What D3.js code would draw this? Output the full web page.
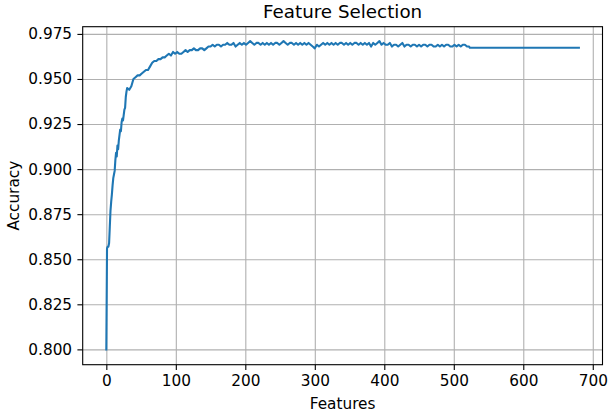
<!DOCTYPE html>
<html>
<head>
<meta charset="utf-8">
<script src="https://cdn.jsdelivr.net/npm/d3@7"></script>
<style>
  body { margin: 0; background: #fff; }
  svg text { font-family: "DejaVu Sans", sans-serif; fill: #000; }
</style>
</head>
<body>
<svg id="chart" width="608" height="418"></svg>
<script>
// early rise, one point per feature count
var riseFeatures = [0, 1, 2, 3, 4, 5, 6, 7, 8, 9, 10, 11, 12, 13, 14, 15, 16, 17, 18, 19, 20,
                    21, 22, 23, 24, 25, 26, 27, 28, 29, 30];
var riseAccuracy = [0.800, 0.856, 0.857, 0.857, 0.859, 0.868, 0.877, 0.882, 0.886, 0.891, 0.895,
                    0.897, 0.899, 0.905, 0.909, 0.907, 0.913, 0.911, 0.916, 0.919, 0.922,
                    0.921, 0.926, 0.928, 0.927, 0.930, 0.933, 0.934, 0.940, 0.943, 0.945];

// noisy part, read every 3 features from 33 to 522
var sampledStart = 33, sampledStep = 3;
var sampledAccuracy = [
  0.944, 0.946, 0.950, 0.951, 0.952, 0.952, 0.953, 0.954, 0.955, 0.955,
  0.957, 0.959, 0.960, 0.960, 0.961, 0.961, 0.962, 0.962, 0.963, 0.964,
  0.963, 0.965, 0.964, 0.965, 0.964, 0.964, 0.965, 0.966, 0.965, 0.966,
  0.966, 0.967, 0.966, 0.966, 0.967, 0.967, 0.966, 0.967, 0.968, 0.968,
  0.969, 0.968, 0.969, 0.969, 0.968, 0.969, 0.969, 0.970, 0.969, 0.969,
  0.970, 0.968, 0.969, 0.970, 0.969, 0.970, 0.969, 0.970, 0.971, 0.970,
  0.969, 0.970, 0.970, 0.969, 0.970, 0.969, 0.970, 0.969, 0.970, 0.969,
  0.970, 0.970, 0.969, 0.970, 0.971, 0.970, 0.969, 0.970, 0.970, 0.969,
  0.970, 0.969, 0.970, 0.969, 0.970, 0.969, 0.970, 0.969, 0.968, 0.967,
  0.969, 0.968, 0.969, 0.970, 0.969, 0.970, 0.969, 0.970, 0.969, 0.970,
  0.969, 0.970, 0.970, 0.969, 0.970, 0.969, 0.970, 0.969, 0.970, 0.970,
  0.969, 0.970, 0.969, 0.970, 0.969, 0.970, 0.968, 0.970, 0.969, 0.970,
  0.971, 0.969, 0.970, 0.969, 0.969, 0.970, 0.968, 0.969, 0.969, 0.968,
  0.969, 0.970, 0.968, 0.969, 0.969, 0.968, 0.969, 0.969, 0.968, 0.969,
  0.968, 0.969, 0.969, 0.968, 0.969, 0.969, 0.968, 0.968, 0.969, 0.968,
  0.969, 0.968, 0.969, 0.969, 0.968, 0.968, 0.969, 0.968, 0.969, 0.968,
  0.969, 0.969, 0.968, 0.968
];

// flat tail
var tailFeatures = [523, 680];
var tailAccuracy = [0.9673, 0.9673];

var xTicks = [0, 100, 200, 300, 400, 500, 600, 700];
var yTicks = [0.800, 0.825, 0.850, 0.875, 0.900, 0.925, 0.950, 0.975];

var data = [];
riseFeatures.forEach(function (f, i) { data.push({ f: f, acc: riseAccuracy[i] }); });
sampledAccuracy.forEach(function (a, i) { data.push({ f: sampledStart + i * sampledStep, acc: a }); });
tailFeatures.forEach(function (f, i) { data.push({ f: f, acc: tailAccuracy[i] }); });

var margin = { top: 26.7, right: 5.5, bottom: 53.3, left: 82.7 },
    width = 608 - margin.left - margin.right,
    height = 418 - margin.top - margin.bottom;

var svg = d3.select("#chart");
var g = svg.append("g").attr("transform", "translate(" + margin.left + "," + margin.top + ")");

var x = d3.scaleLinear().domain([-34, 714]).range([0, width]);
var y = d3.scaleLinear().domain([0.7915, 0.979]).range([height, 0]);

// grid
g.append("g")
    .attr("class", "grid")
    .attr("transform", "translate(0," + height + ")")
    .call(d3.axisBottom(x).tickValues(xTicks).tickSize(-height).tickFormat(""));
g.append("g")
    .attr("class", "grid")
    .call(d3.axisLeft(y).tickValues(yTicks).tickSize(-width).tickFormat(""));
g.selectAll(".grid .domain").remove();
g.selectAll(".grid line").attr("stroke", "#b0b0b0").attr("stroke-width", 1.1);

// line
var line = d3.line()
    .x(function (d) { return x(d.f); })
    .y(function (d) { return y(d.acc); });

g.append("path")
    .datum(data)
    .attr("fill", "none")
    .attr("stroke", "#1f77b4")
    .attr("stroke-width", 2.1)
    .attr("stroke-linejoin", "round")
    .attr("stroke-linecap", "square")
    .attr("d", line);

// axes
var xAxis = g.append("g")
    .attr("transform", "translate(0," + height + ")")
    .call(d3.axisBottom(x).tickValues(xTicks).tickSize(5.3).tickPadding(5).tickSizeOuter(0));
var yAxis = g.append("g")
    .call(d3.axisLeft(y).tickValues(yTicks).tickFormat(d3.format(".3f")).tickSize(5.3).tickPadding(5.3).tickSizeOuter(0));

[xAxis, yAxis].forEach(function (a) {
    a.select(".domain").remove();
    a.selectAll("line").attr("stroke", "#000").attr("stroke-width", 1.1);
    a.selectAll("text").style("font-size", "15.3px").attr("fill", "#000");
});

// frame
g.append("rect")
    .attr("width", width)
    .attr("height", height)
    .attr("fill", "none")
    .attr("stroke", "#000")
    .attr("stroke-width", 1.1);

svg.append("text")
    .attr("x", margin.left + width / 2)
    .attr("y", 17.5)
    .attr("text-anchor", "middle")
    .style("font-size", "18.3px")
    .text("Feature Selection");

svg.append("text")
    .attr("x", margin.left + width / 2)
    .attr("y", 409)
    .attr("text-anchor", "middle")
    .style("font-size", "15.3px")
    .text("Features");

svg.append("text")
    .attr("transform", "translate(18.5," + (margin.top + height / 2) + ") rotate(-90)")
    .attr("text-anchor", "middle")
    .style("font-size", "15.3px")
    .text("Accuracy");
</script>
</body>
</html>
